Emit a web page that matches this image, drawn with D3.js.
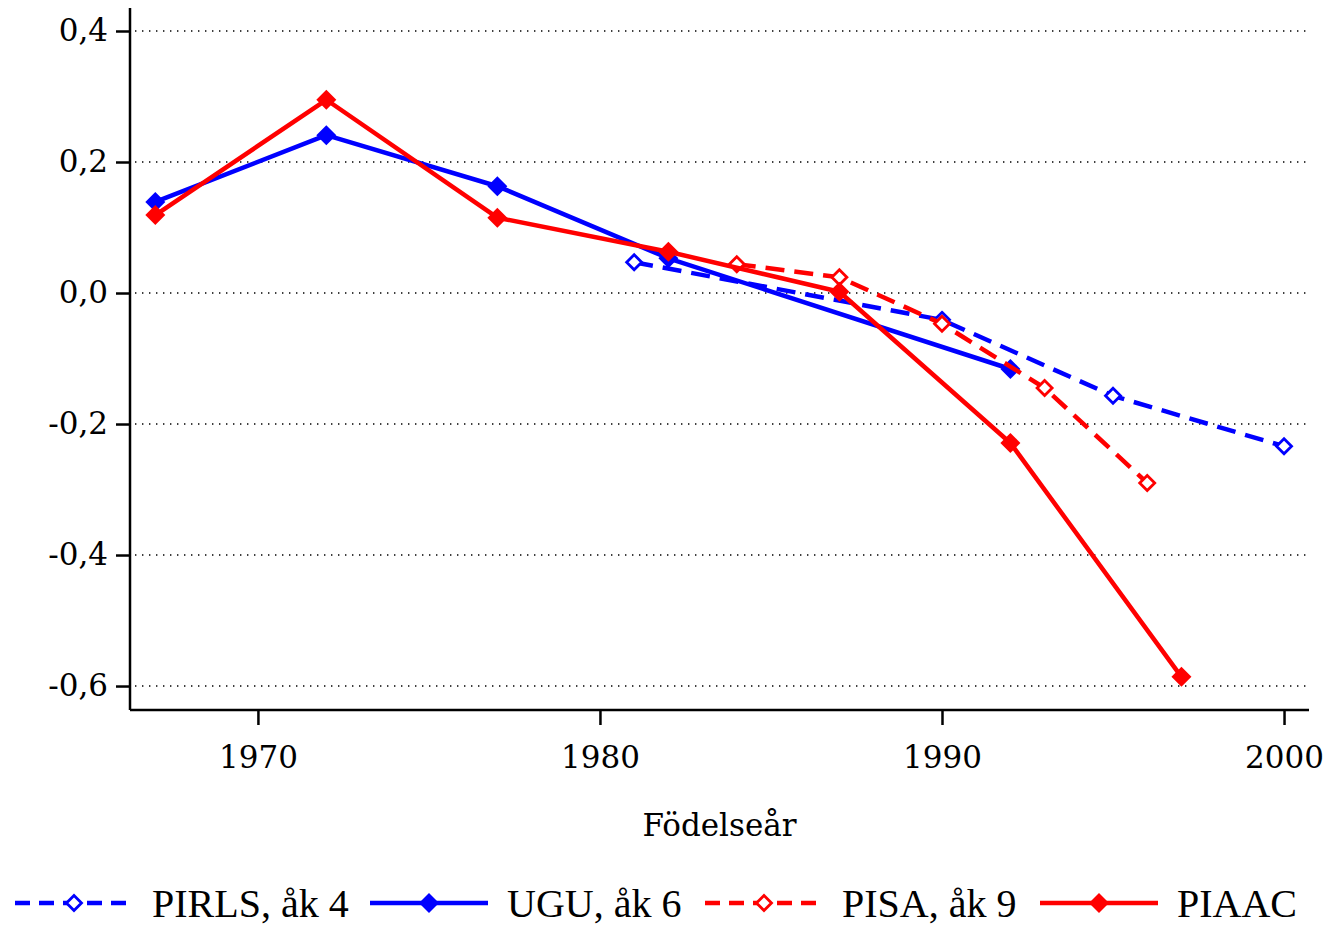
<!DOCTYPE html>
<html>
<head>
<meta charset="utf-8">
<script src="https://cdn.jsdelivr.net/npm/d3@7"></script>
<style>
  body { margin: 0; background: #fff; }
  svg { display: block; }
</style>
</head>
<body>
<div id="chart"></div>
<script>
// data
const pirlsYears = [1981, 1990, 1995, 2000];
const pirlsValues = [0.047, -0.041, -0.157, -0.234];
const uguYears = [1967, 1972, 1977, 1982, 1992];
const uguValues = [0.139, 0.241, 0.163, 0.053, -0.116];
const pisaYears = [1984, 1987, 1990, 1993, 1996];
const pisaValues = [0.044, 0.024, -0.047, -0.145, -0.290];
const piaacYears = [1967, 1972, 1977, 1982, 1987, 1992, 1997];
const piaacValues = [0.119, 0.295, 0.115, 0.063, 0.002, -0.229, -0.586];

const xTicks = [1970, 1980, 1990, 2000];
const yTicks = [0.4, 0.2, 0.0, -0.2, -0.4, -0.6];
const xTitle = "Födelseår";

const series = [
  { name: "PIRLS, åk 4", years: pirlsYears, values: pirlsValues, color: "#0000ff", dashed: true, hollow: true },
  { name: "UGU, åk 6", years: uguYears, values: uguValues, color: "#0000ff", dashed: false, hollow: false },
  { name: "PISA, åk 9", years: pisaYears, values: pisaValues, color: "#ff0000", dashed: true, hollow: true },
  { name: "PIAAC", years: piaacYears, values: piaacValues, color: "#ff0000", dashed: false, hollow: false }
];

const width = 1340, height = 926;
const plotL = 130, plotR = 1309, plotT = 8, plotB = 710;

const svg = d3.select("#chart").append("svg")
  .attr("width", width)
  .attr("height", height);

const x = d3.scaleLinear().domain([1966.26, 2000.73]).range([plotL, plotR]);
const y = d3.scaleLinear().domain([-0.6366, 0.4351]).range([plotB, plotT]);

const tickFont = "DejaVu Serif";
const fmt = v => d3.format(".1f")(v).replace(".", ",").replace("−", "-");

// grid lines
svg.append("g")
  .selectAll("line")
  .data(yTicks)
  .enter()
  .append("line")
  .attr("x1", plotL + 5)
  .attr("x2", plotR)
  .attr("y1", d => y(d))
  .attr("y2", d => y(d))
  .attr("stroke", "#000")
  .attr("stroke-width", 1.4)
  .attr("stroke-dasharray", "1.4,5.6");

// y axis
const yAxis = svg.append("g")
  .attr("transform", `translate(${plotL},0)`)
  .call(d3.axisLeft(y).tickValues(yTicks).tickFormat(fmt).tickSize(14).tickPadding(8));
yAxis.select(".domain").attr("d", `M0,${plotT}V${plotB}`).attr("stroke-width", 2.5);
yAxis.selectAll(".tick line").attr("stroke-width", 2.5);
yAxis.selectAll("text")
  .attr("font-family", tickFont)
  .attr("font-size", 31)
  .attr("fill", "#000");

// x axis
const xAxis = svg.append("g")
  .attr("transform", `translate(0,${plotB})`)
  .call(d3.axisBottom(x).tickValues(xTicks).tickFormat(d3.format("d")).tickSize(15).tickPadding(21));
xAxis.select(".domain").attr("d", `M${plotL},0H${plotR}`).attr("stroke-width", 2.5);
xAxis.selectAll(".tick line").attr("stroke-width", 2.5);
xAxis.selectAll("text")
  .attr("font-family", tickFont)
  .attr("font-size", 31)
  .attr("fill", "#000");

svg.append("text")
  .attr("x", (plotL + plotR) / 2)
  .attr("y", 836)
  .attr("text-anchor", "middle")
  .attr("font-family", tickFont)
  .attr("font-size", 31)
  .text(xTitle);

const line = d3.line().x(d => x(d[0])).y(d => y(d[1]));
const diamond = (cx, cy, r) => `M${cx},${cy - r}L${cx + r},${cy}L${cx},${cy + r}L${cx - r},${cy}Z`;

function drawMarker(g, s, cx, cy) {
  if (s.hollow) {
    g.append("path")
      .attr("d", diamond(cx, cy, 7.5))
      .attr("fill", "#fff")
      .attr("stroke", s.color)
      .attr("stroke-width", 2.8);
  } else {
    g.append("path")
      .attr("d", diamond(cx, cy, 10))
      .attr("fill", s.color);
  }
}

// series lines + markers
series.forEach(s => {
  const pts = s.years.map((yr, i) => [yr, s.values[i]]);
  const g = svg.append("g");
  g.append("path")
    .attr("d", line(pts))
    .attr("fill", "none")
    .attr("stroke", s.color)
    .attr("stroke-width", 4.5)
    .attr("stroke-linejoin", "round")
    .attr("stroke-dasharray", s.dashed ? "19,10" : null);
  pts.forEach(p => drawMarker(g, s, x(p[0]), y(p[1])));
});

// legend
const legendY = 903;
const legendX = [15, 370, 705, 1040];
series.forEach((s, i) => {
  const g = svg.append("g").attr("transform", `translate(${legendX[i]},${legendY})`);
  g.append("line")
    .attr("x1", 0).attr("x2", 118)
    .attr("y1", 0).attr("y2", 0)
    .attr("stroke", s.color)
    .attr("stroke-width", 4.5)
    .attr("stroke-dasharray", s.dashed ? "15,9" : null);
  drawMarker(g, s, 59, 0);
  g.append("text")
    .attr("x", 137)
    .attr("y", 14)
    .attr("font-family", "Liberation Serif")
    .attr("font-size", 40)
    .text(s.name);
});
</script>
</body>
</html>
